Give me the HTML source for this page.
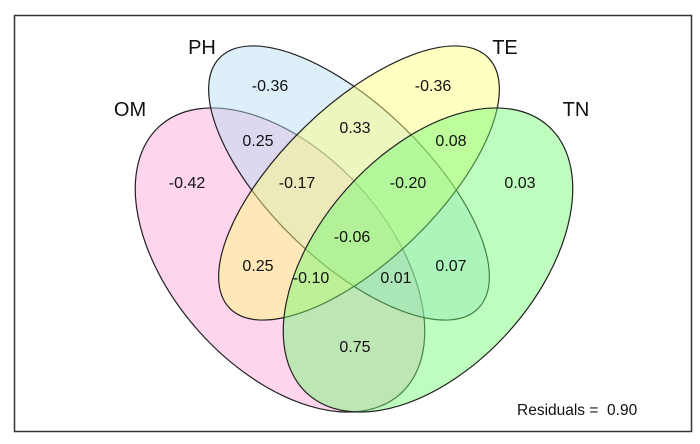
<!DOCTYPE html>
<html><head><meta charset="utf-8"><style>
html,body{margin:0;padding:0;background:#fff}
svg{display:block}
text{font-family:"Liberation Sans",sans-serif;fill:#111}
</style></head><body>
<svg width="700" height="444" viewBox="0 0 700 444">
<rect x="14.5" y="15.5" width="677" height="416" fill="#fff" stroke="#333" stroke-width="1.5"/>
<g stroke="#222" stroke-width="1.2">
<ellipse cx="280" cy="260" rx="180" ry="108" transform="rotate(48 280 260)" fill="rgb(255,160,215)" fill-opacity="0.45"/>
<ellipse cx="349" cy="183" rx="180" ry="78" transform="rotate(44 349 183)" fill="rgb(180,222,245)" fill-opacity="0.45"/>
<ellipse cx="359" cy="183" rx="180" ry="78" transform="rotate(-44 359 183)" fill="rgb(255,255,120)" fill-opacity="0.45"/>
<ellipse cx="428" cy="260" rx="180" ry="108" transform="rotate(-48 428 260)" fill="rgb(110,250,110)" fill-opacity="0.45"/>
</g>
<g font-size="20" text-anchor="middle">
<text x="130" y="116">OM</text>
<text x="202" y="54">PH</text>
<text x="505" y="54">TE</text>
<text x="576" y="116">TN</text>
</g>
<g font-size="16" text-anchor="middle">
<text x="270" y="91">-0.36</text>
<text x="433" y="91">-0.36</text>
<text x="355" y="133">0.33</text>
<text x="258" y="146">0.25</text>
<text x="451" y="146">0.08</text>
<text x="187" y="188">-0.42</text>
<text x="297" y="188">-0.17</text>
<text x="408" y="188">-0.20</text>
<text x="520" y="188">0.03</text>
<text x="352" y="242">-0.06</text>
<text x="258" y="271">0.25</text>
<text x="311" y="283">-0.10</text>
<text x="396" y="283">0.01</text>
<text x="451" y="271">0.07</text>
<text x="355" y="352">0.75</text>
</g>
<text x="517" y="415" font-size="15.5">Residuals = &#160;0.90</text>
</svg>
</body></html>
